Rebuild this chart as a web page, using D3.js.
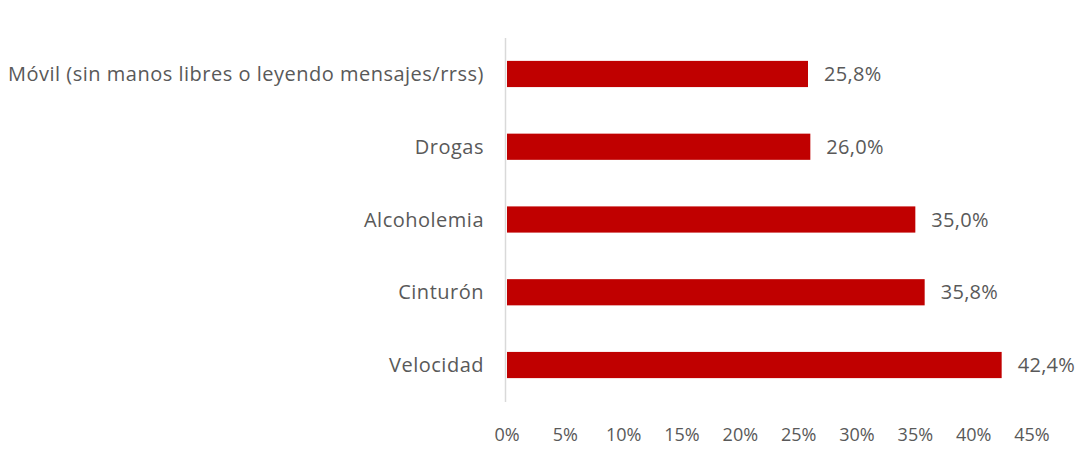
<!DOCTYPE html>
<html>
<head>
<meta charset="utf-8">
<script src="https://cdn.jsdelivr.net/npm/d3@7"></script>
<style>
  html, body { margin: 0; padding: 0; background: #fff; }
  svg { display: block; }
  text { font-family: "Open Sans", Lato, sans-serif; fill: #595959; }
</style>
</head>
<body>
<svg id="chart" width="1079" height="457"></svg>
<script>
// Infracciones / factores de riesgo (porcentaje)
const categories = [
  "Móvil (sin manos libres o leyendo mensajes/rrss)",
  "Drogas",
  "Alcoholemia",
  "Cinturón",
  "Velocidad"
];
const values = [25.8, 26.0, 35.0, 35.8, 42.4];
const tickValues = [0, 5, 10, 15, 20, 25, 30, 35, 40, 45];

const svg = d3.select("#chart");
const x = d3.scaleLinear().domain([0, 45]).range([507, 1032]);
const y = d3.scaleBand().domain(categories).range([37.6, 401.4]).paddingInner(0.64).paddingOuter(0.32);

const fmt = v => d3.format(".1f")(v).replace(".", ",") + "%";

// vertical axis line
svg.append("line")
  .attr("x1", 505.5).attr("x2", 505.5)
  .attr("y1", 38).attr("y2", 402)
  .attr("stroke", "#d9d9d9").attr("stroke-width", 1.5);

// bars
svg.selectAll("rect.bar").data(values).enter().append("rect")
  .attr("class", "bar")
  .attr("x", x(0))
  .attr("y", (d, i) => y(categories[i]))
  .attr("width", d => x(d) - x(0))
  .attr("height", y.bandwidth())
  .attr("fill", "#c00000");

// value labels
svg.selectAll("text.val").data(values).enter().append("text")
  .attr("class", "val")
  .attr("x", d => x(d) + 16)
  .attr("y", (d, i) => y(categories[i]) + y.bandwidth() / 2)
  .attr("dy", "0.35em")
  .attr("font-size", 20)
  .attr("letter-spacing", 0.3)
  .text(fmt);

// category labels
svg.selectAll("text.cat").data(categories).enter().append("text")
  .attr("class", "cat")
  .attr("x", 484)
  .attr("y", d => y(d) + y.bandwidth() / 2)
  .attr("dy", "0.35em")
  .attr("text-anchor", "end")
  .attr("font-size", 20)
  .attr("letter-spacing", 0.5)
  .text(d => d);

// x tick labels
svg.selectAll("text.tick").data(tickValues).enter().append("text")
  .attr("class", "tick")
  .attr("x", d => x(d))
  .attr("y", 435)
  .attr("dy", "0.35em")
  .attr("text-anchor", "middle")
  .attr("font-size", 18)
  .text(d => d + "%");
</script>
</body>
</html>
